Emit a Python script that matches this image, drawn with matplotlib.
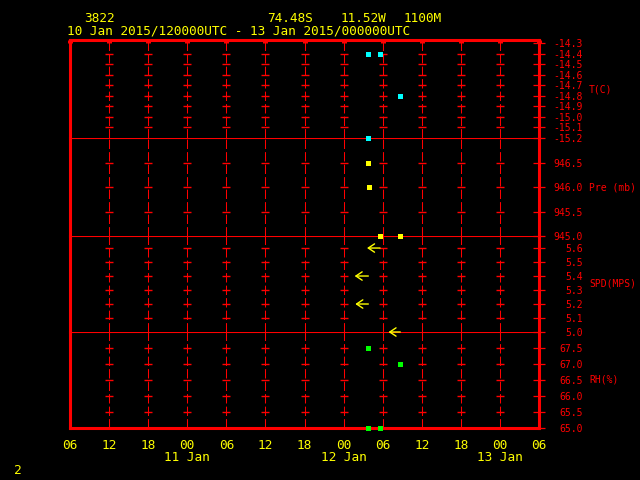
import matplotlib
matplotlib.use('Agg')
import matplotlib.pyplot as plt
import matplotlib.transforms as mtransforms

RED = '#ff0000'
YEL = '#ffff00'
MONO = 'DejaVu Sans Mono'

# time axis: hours after 10 Jan 2015 06 UTC
hour_ticks = list(range(0, 73, 6))
hour_labels = ['06', '12', '18', '00', '06', '12', '18', '00', '06', '12', '18', '00', '06']
day_hours = [18, 42, 66]
day_labels = ['11 Jan', '12 Jan', '13 Jan']

# temperature
t_time = [45.8, 47.6, 50.7, 45.8]
t_val = [-14.4, -14.4, -14.8, -15.2]
t_ticks = [-15.2, -15.1, -15.0, -14.9, -14.8, -14.7, -14.6, -14.5, -14.4, -14.3]

# pressure
p_time = [45.8, 45.9, 47.6, 50.7]
p_val = [946.5, 946.0, 945.0, 945.0]
p_ticks = [945.0, 945.5, 946.0, 946.5]

# wind speed (arrows point westward, length in hours)
spd_time = [47.6, 45.8, 45.8, 50.7]
spd_val = [5.6, 5.4, 5.2, 5.0]
spd_u = [-2.0, -2.1, -2.0, -1.8]
spd_ticks = [5.0, 5.1, 5.2, 5.3, 5.4, 5.5, 5.6]

# relative humidity
rh_time = [45.8, 50.7, 45.8, 47.6]
rh_val = [67.5, 67.0, 65.0, 65.0]
rh_ticks = [65.0, 65.5, 66.0, 66.5, 67.0, 67.5]

panels = [
    dict(name='T(C)', ylim=(-15.2, -14.272), ticks=t_ticks, color='#00ffff'),
    dict(name='Pre (mb)', ylim=(945.0, 947.01), ticks=p_ticks, color=YEL),
    dict(name='SPD(MPS)', ylim=(5.0, 5.686), ticks=spd_ticks, color=YEL),
    dict(name='RH(%)', ylim=(65.0, 68.0), ticks=rh_ticks, color='#00ff00'),
]

W, H = 640, 480
left, right = 70, 539
bounds = [40, 138, 236, 332, 428]

fig = plt.figure(figsize=(6.4, 4.8), dpi=100, facecolor='black')

axes = []
for i, p in enumerate(panels):
    y0, y1 = bounds[i], bounds[i + 1]
    ax = fig.add_axes([left / W, 1 - y1 / H, (right - left) / W, (y1 - y0) / H])
    ax.set_zorder(10 - i)  # upper panels on top so marks on the dividers show
    ax.set_facecolor('black')
    ax.set_xlim(0, 72)
    ax.set_ylim(*p['ylim'])
    for s in ['left', 'right']:
        ax.spines[s].set_color(RED)
        ax.spines[s].set_linewidth(2.2)
    ax.spines['top'].set_color(RED)
    ax.spines['top'].set_linewidth(2.2 if i == 0 else 0.8)
    ax.spines['bottom'].set_color(RED)
    ax.spines['bottom'].set_linewidth(2.2)
    ax.spines['bottom'].set_visible(i == 3)

    # dashed vertical grid with little crosses at each level
    inner = hour_ticks[1:-1]
    for h in inner:
        ax.axvline(h, color=RED, lw=0.75, ls=(0, (9, 3)), zorder=1)
    cross_levels = [v for v in p['ticks'] if v not in (p['ylim'][0], -14.3)]
    for v in cross_levels:
        ax.plot(inner, [v] * len(inner), ls='none', marker='_', ms=5.5,
                mew=1.0, color=RED, zorder=1)

    # right hand axis
    ax.yaxis.tick_right()
    ax.set_yticks(p['ticks'])
    ax.set_yticklabels(['%.1f' % v for v in p['ticks']])
    ax.tick_params(axis='y', direction='inout', length=8, width=0.9, color=RED,
                   labelcolor=RED, labelsize=7, pad=27.5, left=False)
    for lbl in ax.get_yticklabels():
        lbl.set_horizontalalignment('right')
        lbl.set_family(MONO)
    ax.annotate(p['name'], xy=(1, 0.5), xycoords='axes fraction', xytext=(36, 0),
                textcoords='offset points', ha='left', va='center', color=RED,
                fontsize=7, family=MONO)

    ax.set_xticks(hour_ticks)
    if i == 0:
        ax.xaxis.tick_top()
        ax.tick_params(axis='x', direction='in', length=2, width=3.6, color=RED,
                       labeltop=False)
    elif i == 3:
        ax.set_xticklabels(hour_labels)
        ax.tick_params(axis='x', length=0, pad=8, labelcolor=YEL, labelsize=9.2)
        for lbl in ax.get_xticklabels():
            lbl.set_family(MONO)
    else:
        ax.tick_params(axis='x', length=0, labelbottom=False)
    axes.append(ax)

ax_t, ax_p, ax_s, ax_r = axes

ax_t.plot(t_time, t_val, ls='none', marker='s', ms=3.6, color=panels[0]['color'],
          mew=0, clip_on=False, zorder=5)
ax_p.plot(p_time, p_val, ls='none', marker='s', ms=3.6, color=panels[1]['color'],
          mew=0, clip_on=False, zorder=5)
for tt, v, u in zip(spd_time, spd_val, spd_u):
    ax_s.annotate('', xy=(tt + u, v), xytext=(tt, v), annotation_clip=False,
                  arrowprops=dict(arrowstyle='->,head_length=0.45,head_width=0.3',
                                  color=YEL, lw=1.0, shrinkA=0, shrinkB=0), zorder=5)
ax_r.plot(rh_time, rh_val, ls='none', marker='s', ms=3.6, color=panels[3]['color'],
          mew=0, clip_on=False, zorder=5)

trans = mtransforms.blended_transform_factory(ax_r.transData, ax_r.transAxes)
for h, lab in zip(day_hours, day_labels):
    ax_r.text(h, -0.31, lab, transform=trans, ha='center', va='center',
              color=YEL, fontsize=9.2, family=MONO)

def ftext(x, y, s, **kw):
    fig.text(x / W, 1 - y / H, s, color=YEL, fontsize=9.2, family=MONO,
             va='center', ha='left', **kw)

ftext(84, 18, '3822')
ftext(267, 18, '74.48S')
ftext(341, 18, '11.52W')
ftext(404, 18, '1100M')
ftext(67, 31, '10 Jan 2015/120000UTC - 13 Jan 2015/000000UTC')
ftext(14, 471, '2')

fig.savefig('out.png', dpi=100, facecolor='black')
